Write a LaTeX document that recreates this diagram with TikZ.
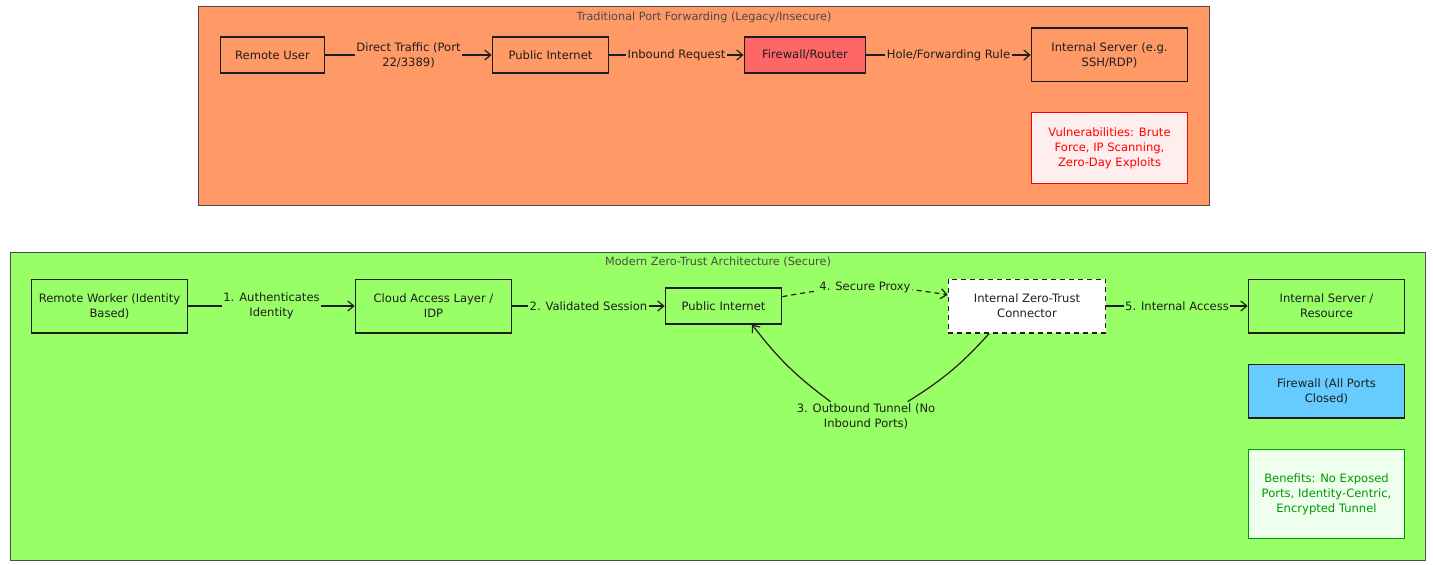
\documentclass[tikz,border=0pt]{standalone}
\usepackage{fontspec}
\setmainfont{DejaVu Sans}
\usetikzlibrary{arrows.meta}
\definecolor{orangebg}{HTML}{FF9966}
\definecolor{greenbg}{HTML}{99FF66}
\definecolor{fwred}{HTML}{FF6666}
\definecolor{fwblue}{HTML}{66CCFF}
\definecolor{vulnbg}{HTML}{FFEEEE}
\definecolor{benbg}{HTML}{EEFFEE}
\definecolor{bengreen}{HTML}{009900}
\definecolor{ink}{HTML}{1E1E1E}
\begin{document}
\begin{tikzpicture}[x=1bp,y=1bp,
  cluster/.style={draw=ink!80, line width=0.8bp, inner sep=0pt},
  ctitle/.style={font=\fontsize{11.3}{13}\selectfont, text=ink!80, inner sep=1bp},
  box/.style={draw=ink, line width=1.2bp, align=center, text=ink,
    font=\fontsize{11.6}{15}\selectfont, inner sep=2bp},
  edge/.style={draw=ink, line width=1.2bp, -{Straight Barb[length=6bp,width=10bp]}},
  dashedge/.style={edge, dash pattern=on 5bp off 4bp},
  elab/.style={font=\fontsize{11.6}{15}\selectfont, text=ink, align=center, inner sep=1.5bp}
]
\useasboundingbox (0,0) rectangle (1433,-565);

% ---------- Traditional ----------
\node[cluster, fill=orangebg, minimum width=1014, minimum height=200] (c1) at (704,-106) {};
\node[ctitle] (t1) at (704,-17) {Traditional Port Forwarding (Legacy/Insecure)};

\node[box, minimum width=105, minimum height=36] (ru) at (272.5,-55) {Remote User};
\node[box, minimum width=117, minimum height=36] (pi1) at (550.5,-55) {Public Internet};
\node[box, fill=fwred, minimum width=122, minimum height=36] (fw1) at (805,-55) {Firewall/Router};
\node[box, minimum width=157, minimum height=54] (is1) at (1109.5,-55) {Internal Server (e.g.\\SSH/RDP)};
\node[box, draw=red, fill=vulnbg, text=red, minimum width=157, minimum height=72] (vul) at (1109.5,-148) {Vulnerabilities: Brute\\Force, IP Scanning,\\Zero-Day Exploits};

\draw[edge] (ru) -- node[elab, fill=orangebg] {Direct Traffic (Port\\22/3389)} (pi1);
\draw[edge] (pi1) -- node[elab, fill=orangebg] {Inbound Request} (fw1);
\draw[edge] (fw1) -- node[elab, fill=orangebg] {Hole/Forwarding Rule} (is1);

% ---------- Zero Trust ----------
\node[cluster, fill=greenbg, minimum width=1420, minimum height=309] (c2) at (718,-406.5) {};
\node[ctitle] (t2) at (718,-262) {Modern Zero-Trust Architecture (Secure)};

\node[box, minimum width=157, minimum height=54] (rw) at (109.5,-306) {Remote Worker (Identity\\Based)};
\node[box, minimum width=157, minimum height=54] (cal) at (433.5,-306) {Cloud Access Layer /\\IDP};
\node[box, minimum width=117, minimum height=36] (pi2) at (723.5,-306) {Public Internet};
\node[box, dash pattern=on 5bp off 4bp, fill=white, minimum width=158, minimum height=54] (zt) at (1027,-306) {Internal Zero-Trust\\Connector};
\node[box, minimum width=157, minimum height=54] (is2) at (1326.5,-306) {Internal Server /\\Resource};
\node[box, fill=fwblue, minimum width=157, minimum height=54] (fw2) at (1326.5,-391) {Firewall (All Ports\\Closed)};
\node[box, draw=bengreen, fill=benbg, text=bengreen, minimum width=157, minimum height=90] (ben) at (1326.5,-494) {Benefits: No Exposed\\Ports, Identity-Centric,\\Encrypted Tunnel};

\draw[edge] (rw) -- node[elab, fill=greenbg] {1. Authenticates\\Identity} (cal);
\draw[edge] (cal) -- node[elab, fill=greenbg] {2. Validated Session} (pi2);
\draw[dashedge] (pi2.9) to[bend left=10] node[elab, fill=greenbg] {4. Secure Proxy} (zt.172);
\draw[edge] (zt) -- node[elab, fill=greenbg] {5. Internal Access} (is2);

\node[elab] (l3) at (866,-416) {3. Outbound Tunnel (No\\Inbound Ports)};
\draw[edge] (zt.216) to[bend left=8] (l3.19) (l3.158) to[bend left=8] (pi2.-33);
\end{tikzpicture}
\end{document}
